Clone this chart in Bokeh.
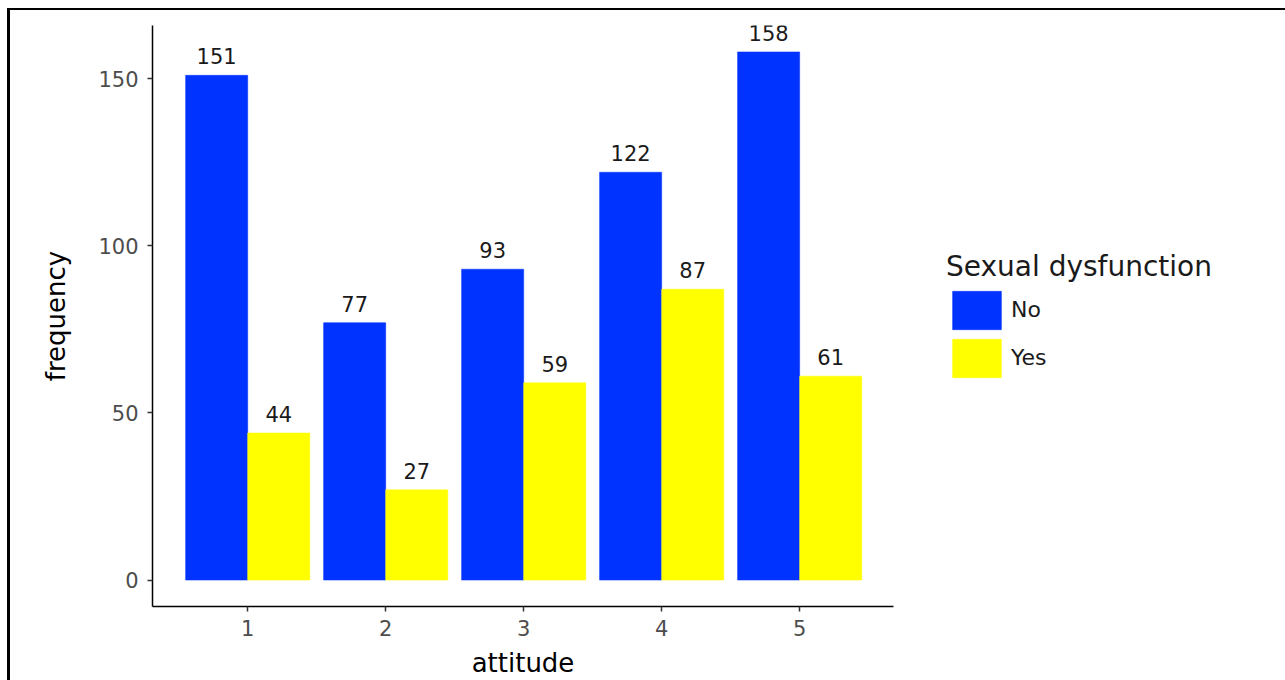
from bokeh.plotting import figure
from bokeh.models import ColumnDataSource, Range1d, Legend, LegendItem, FixedTicker
from bokeh.transform import dodge
from bokeh.core.properties import value
from bokeh.embed import file_html
from bokeh.resources import INLINE

# ---- data ----
attitude = [1, 2, 3, 4, 5]
no_counts = [151, 77, 93, 122, 158]
yes_counts = [44, 27, 59, 87, 61]
groups = ["No", "Yes"]
y_ticks = [0, 50, 100, 150]

FONT = "DejaVu Sans"
BLUE = "#0033ff"
YELLOW = "#ffff00"

src = ColumnDataSource(dict(
    attitude=attitude,
    no=no_counts,
    yes=yes_counts,
    no_lbl=[str(v) for v in no_counts],
    yes_lbl=[str(v) for v in yes_counts],
))

p = figure(frame_width=741, frame_height=581, output_backend="svg", toolbar_location=None,
           x_range=Range1d(0.31, 5.68), y_range=Range1d(-7.9, 165.9),
           min_border_left=142, min_border_top=15, min_border_bottom=70,
           min_border_right=0)
p.styles = {"border-top": "2px solid black", "border-left": "3px solid black",
            "transform": "translate(7px, 8px)"}

p.outline_line_color = None
p.xgrid.grid_line_color = None
p.ygrid.grid_line_color = None
p.background_fill_color = "white"

r_no = p.vbar(x=dodge("attitude", -0.225, range=p.x_range), top="no", bottom=0,
              width=0.45, source=src, fill_color=BLUE, line_color=BLUE, line_width=0.5)
r_yes = p.vbar(x=dodge("attitude", 0.225, range=p.x_range), top="yes", bottom=0,
               width=0.45, source=src, fill_color=YELLOW, line_color=YELLOW, line_width=0.5)

p.text(x=dodge("attitude", -0.225, range=p.x_range), y="no", text="no_lbl", source=src,
       text_align="center", text_baseline="bottom", y_offset=-11,
       text_font=value(FONT), text_font_size="21px", text_color="#1a1a1a")
p.text(x=dodge("attitude", 0.225, range=p.x_range), y="yes", text="yes_lbl", source=src,
       text_align="center", text_baseline="bottom", y_offset=-11,
       text_font=value(FONT), text_font_size="21px", text_color="#1a1a1a")

for ax in (p.xaxis[0], p.yaxis[0]):
    ax.axis_line_color = "black"
    ax.axis_line_width = 1.5
    ax.major_tick_line_color = "#333333"
    ax.major_tick_line_width = 1.5
    ax.major_tick_out = 5
    ax.major_tick_in = 0
    ax.minor_tick_line_color = None
    ax.major_label_text_font = FONT
    ax.major_label_text_font_size = "21px"
    ax.major_label_text_color = "#4d4d4d"
    ax.axis_label_text_font = FONT
    ax.axis_label_text_font_size = "26px"
    ax.axis_label_text_font_style = "normal"
    ax.axis_label_text_color = "black"

p.xaxis.ticker = FixedTicker(ticks=attitude)
p.yaxis.ticker = FixedTicker(ticks=y_ticks)
p.xaxis.axis_label = "attitude"
p.yaxis.axis_label = "frequency"
p.xaxis.major_label_standoff = 8
p.yaxis.major_label_standoff = 9
p.xaxis.axis_label_standoff = 9
p.yaxis.axis_label_standoff = 24

legend = Legend(items=[LegendItem(label=groups[0], renderers=[r_no]),
                       LegendItem(label=groups[1], renderers=[r_yes])],
                location="center_left", title="Sexual dysfunction",
                title_text_font=FONT, title_text_font_size="28px",
                title_text_font_style="normal", title_text_color="#1a1a1a",
                title_standoff=3,
                label_text_font=FONT, label_text_font_size="22px",
                label_text_color="#1a1a1a",
                glyph_width=61, glyph_height=48, label_height=48,
                label_standoff=4, spacing=0, padding=0, margin=53,
                border_line_color=None, background_fill_alpha=0)
p.add_layout(legend, "right")

open("out.html", "w").write(file_html(p, INLINE))
